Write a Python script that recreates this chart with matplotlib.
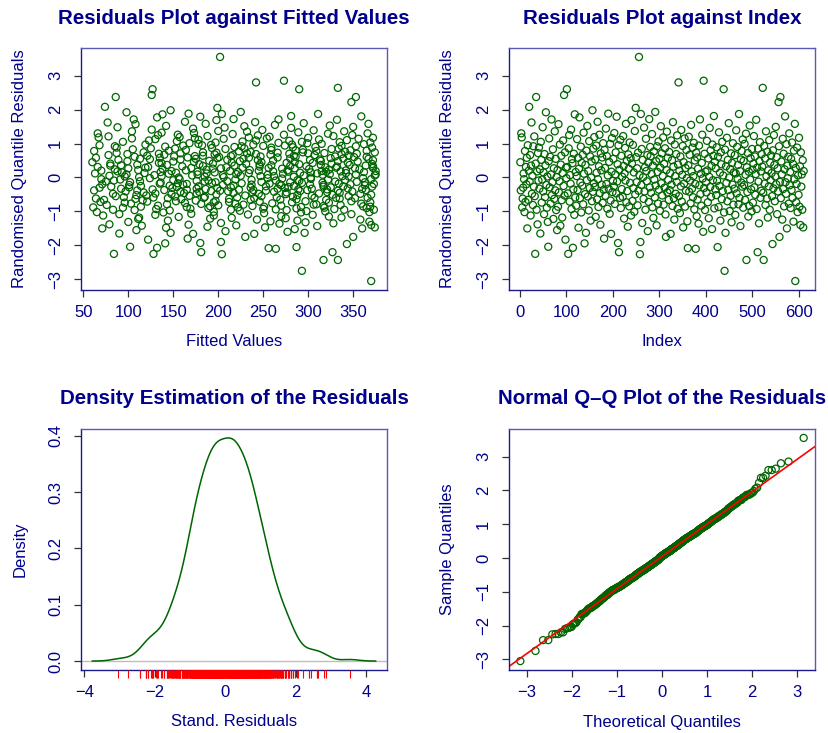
import numpy as np
import matplotlib.pyplot as plt
from statistics import NormalDist

plt.rcParams['font.family'] = ['Liberation Sans', 'DejaVu Sans']

# randomised quantile residuals, in index order
resid = [
    0.45, -0.38, 1.30, 1.18, -0.88, -0.62, -0.30, 0.12, -0.05, -1.02, 0.78, -0.72, 0.31, -0.20, 0.58, -1.50, 0.95, -0.66, 0.20, 2.08,
    -0.12, 0.66, -1.12, 0.35, 1.62, -0.48, 0.05, -0.81, 0.92, -0.27, 1.21, -0.55, -2.25, 0.41, 2.37, -0.95, 0.18, -1.38, 0.72, -0.09,
    0.88, -0.33, 0.24, -1.65, 1.05, 0.52, -0.74, -0.06, 1.48, -0.41, 0.15, -1.08, 0.69, -0.58, 0.36, 1.92, -0.22, -0.89, 0.03, -1.31,
    -2.04, 0.48, 1.15, -0.29, 0.61, -0.77, 0.09, 1.71, -0.52, -0.14, 0.83, -1.22, 0.27, -0.63, 1.36, -0.38, 0.55, -0.96, 0.01, -1.55,
    0.22, -0.86, 1.57, -0.44, -0.11, 0.97, -1.42, 0.38, 0.64, -0.67, -1.18, 0.13, 1.09, -0.25, 2.43, -0.53, 0.74, -1.83, 0.29, -0.02,
    2.60, 0.31, -0.47, -2.25, 0.86, 1.25, -0.71, 0.07, -0.18, 1.41, -0.93, 0.54, 0.42, -2.07, -0.35, 0.70, -1.10, 1.86, -0.59, 0.16,
    -0.83, 0.04, 1.13, -0.37, 0.58, -1.48, 0.26, 1.77, -0.61, -0.15, 0.91, -1.03, 0.43, -0.24, 0.67, -0.79, 1.32, 0.11, -1.94, -0.49,
    0.37, -1.63, 0.79, -0.08, 1.52, -0.56, 0.19, -0.97, 1.07, -0.31, 0.62, -1.27, 0.00, 0.47, -0.70, 1.98, -0.42, 0.85, -0.17, 1.19,
    -0.28, 0.53, -1.16, 0.94, 0.14, -0.64, 1.64, -0.05, -0.87, 0.33, 1.26, -0.46, -1.39, 0.71, 0.21, -0.21, 0.59, -0.75, 1.01, -0.36,
    -1.80, 0.81, 0.28, -0.54, 1.44, -0.19, 0.63, -0.92, 0.06, 1.88, -0.33, 0.46, -1.07, 0.99, -0.68, -1.66, 0.17, 1.16, -0.43, -0.10,
    0.55, -0.26, 1.31, -0.78, 0.09, 0.74, -0.47, 1.79, -0.12, 0.39, -1.93, 0.95, -2.20, 0.23, -0.60, 1.11, -0.90, 0.64, -0.34, 0.02,
    -0.57, 1.22, 0.34, -1.21, 0.12, 0.87, -0.09, 1.58, -0.73, 0.49, -0.40, -1.45, 0.68, 0.26, -0.85, 1.03, -0.16, 0.57, -1.12, 1.69,
    0.41, -0.69, 0.96, -0.31, 0.15, -1.01, 1.37, -0.50, 2.05, 0.60, -0.14, 0.27, -0.82, 0.73, -0.39, 3.55, 0.07, -2.26, -1.90, 1.87,
    -0.22, 0.84, -1.34, 0.52, 0.01, -0.63, 1.47, -0.41, 0.30, -0.95, 1.14, 0.19, -0.11, 0.66, -1.58, 0.44, -0.72, 1.72, -0.29, 0.90,
    0.63, -0.45, 0.10, 1.28, -0.88, 0.35, -1.19, 0.77, -0.06, -0.59, 1.93, -0.24, 0.48, -1.41, 0.92, 0.16, -0.77, 1.06, -0.36, 0.55,
    -0.98, 0.29, 1.51, -0.17, 0.71, -0.53, 0.05, 1.18, -0.80, 0.40, -0.30, 0.86, -1.09, -1.75, 0.22, 1.35, -0.44, 0.58, -0.07, -0.66,
    0.75, -0.37, 0.13, -1.66, 1.09, -0.21, 0.51, -0.84, 1.63, 0.32, -0.61, -1.24, 0.97, 0.04, -0.48, 0.69, -0.13, 1.24, -0.92, 0.38,
    2.80, -0.55, 0.20, -1.05, 0.62, -0.26, 1.40, -0.71, 0.08, 0.93, -1.47, 0.45, -0.18, 1.15, -0.86, 0.28, -0.39, 0.81, -0.02, -1.29,
    -2.08, 0.36, 1.20, -0.42, 0.67, -0.09, -0.76, 1.55, 0.18, -0.33, 0.88, -0.58, 0.04, 1.02, -0.94, 0.50, -0.19, -2.10, 0.73, -1.14,
    0.59, -0.65, 0.26, -1.36, 0.94, -0.23, 1.71, -0.49, 0.11, -0.83, 0.43, 1.26, -0.03, -1.60, 2.85, -0.31, 0.70, -0.96, 0.17, -0.14,
    -0.44, 1.08, 0.21, -0.73, 0.56, -1.20, 0.02, 1.46, -0.28, 0.80, -0.57, 0.34, -1.52, 0.97, -0.08, 0.64, 1.81, -0.91, 0.46, -0.35,
    0.27, -0.52, 0.89, -0.10, -2.05, 0.61, -0.87, 1.33, -0.25, 0.14, -1.27, 0.74, 0.39, -0.64, 1.05, -0.40, 0.06, 2.60, -1.03, -2.75,
    0.82, -1.63, 0.33, -0.16, 1.17, -0.70, 0.52, -0.37, 1.60, 0.00, -0.99, 0.25, -0.54, 0.71, -1.32, 0.43, -0.21, 1.01, -0.80, 0.15,
    -0.33, 0.66, -1.10, 0.12, 1.39, -0.47, 0.90, -0.04, 0.37, -0.79, 1.87, -0.60, 0.19, -1.43, 0.53, -0.15, 0.78, -0.27, 1.12, -0.89,
    0.49, -0.22, 0.99, -0.66, 0.08, 1.29, -2.43, 0.30, -0.43, 0.72, -1.15, 0.17, -0.84, 1.53, -0.06, 0.57, -0.35, -1.00, 0.84, 0.23,
    -0.74, 0.41, 1.22, -0.29, 0.62, -0.51, 0.10, 1.70, -0.93, 0.29, -2.20, 0.85, -0.12, -1.35, 0.48, 1.04, -0.60, 0.18, -0.39, 0.69,
    0.32, 2.64, -0.45, -2.43, 0.93, -0.18, 0.56, -0.81, 1.36, 0.04, -0.62, 0.76, -1.18, 0.21, -0.26, 1.10, -0.95, 0.44, -0.08, 0.65,
    0.13, -0.55, -1.96, 0.80, -0.32, 1.25, 0.37, -0.70, 0.03, 1.49, -0.20, 0.60, -1.08, 0.27, -0.41, 2.22, 0.92, -1.75, -0.13, 2.37,
    -0.61, 0.47, 0.09, -1.24, 1.14, -0.34, 0.70, -0.85, 0.24, 1.80, -0.14, -0.48, 0.98, -1.50, 0.35, -0.02, 0.61, -0.77, 1.30, -0.23,
    0.16, -0.90, 0.55, -0.37, 1.03, -0.60, 0.40, -1.30, 0.79, -0.05, 1.58, -3.05, 0.28, -0.73, -0.19, 0.88, -1.02, 0.06, -0.51, 1.17,
    -0.86, 0.33, -1.40, 0.74, -0.27, 0.09, -0.95, 0.51, -1.47, 0.19,
]

# fitted values, same order
fitted = [
    60, 62, 66, 67, 61, 64, 68, 63, 70, 65, 62, 69, 66, 71, 64, 71, 68, 73, 70, 74,
    75, 78, 72, 80, 77, 83, 79, 76, 85, 81, 78, 86, 84, 80, 86, 83, 88, 79, 87, 84,
    87, 92, 85, 90, 94, 89, 96, 91, 88, 97, 93, 90, 99, 95, 92, 98, 101, 94, 96, 100,
    102, 99, 104, 101, 107, 103, 98, 106, 109, 102, 105, 111, 100, 108, 104, 110, 113, 107, 112, 109,
    111, 114, 108, 117, 113, 119, 115, 110, 121, 116, 112, 118, 123, 114, 126, 120, 117, 122, 119, 124,
    127, 122, 130, 128, 125, 133, 121, 129, 135, 126, 131, 124, 137, 132, 127, 134, 130, 138, 128, 136,
    133, 137, 130, 140, 135, 142, 138, 132, 144, 136, 141, 139, 134, 146, 140, 143, 137, 145, 141, 148,
    143, 147, 145, 150, 142, 152, 148, 146, 154, 149, 151, 144, 156, 150, 153, 147, 158, 152, 155, 157,
    154, 158, 156, 161, 153, 159, 163, 157, 165, 160, 155, 162, 167, 158, 164, 161, 166, 163, 168, 165,
    166, 164, 170, 168, 172, 165, 174, 169, 171, 167, 176, 173, 170, 178, 175, 172, 177, 174, 179, 176,
    175, 178, 173, 181, 177, 183, 176, 180, 185, 179, 180, 182, 181, 187, 184, 178, 189, 183, 186, 185,
    185, 188, 183, 191, 187, 193, 189, 186, 195, 190, 192, 188, 196, 194, 191, 197, 193, 199, 195, 198,
    194, 197, 192, 199, 196, 195, 200, 198, 199, 201, 197, 203, 200, 198, 202, 202, 205, 204, 203, 204,
    205, 208, 203, 210, 206, 212, 207, 211, 209, 214, 206, 213, 210, 216, 208, 215, 212, 217, 214, 218,
    214, 217, 220, 216, 222, 218, 215, 223, 219, 221, 225, 217, 224, 220, 226, 222, 219, 227, 223, 228,
    224, 227, 229, 226, 232, 230, 225, 234, 228, 231, 236, 229, 233, 230, 235, 232, 238, 234, 237, 236,
    236, 239, 234, 240, 242, 237, 244, 238, 241, 246, 240, 243, 239, 247, 245, 242, 248, 244, 250, 246,
    242, 248, 245, 251, 247, 253, 249, 246, 255, 250, 252, 248, 257, 254, 251, 256, 253, 259, 255, 258,
    256, 259, 257, 262, 258, 264, 260, 263, 261, 266, 259, 265, 262, 267, 264, 261, 268, 264, 266, 270,
    266, 269, 271, 268, 274, 270, 267, 275, 272, 270, 276, 273, 271, 277, 273, 274, 279, 276, 278, 280,
    276, 279, 277, 282, 280, 275, 284, 281, 278, 286, 283, 280, 285, 282, 288, 284, 281, 287, 285, 289,
    285, 288, 283, 290, 287, 286, 292, 289, 284, 291, 288, 294, 290, 287, 293, 291, 295, 290, 292, 293,
    294, 296, 298, 293, 300, 297, 302, 299, 295, 303, 298, 301, 304, 300, 297, 305, 302, 299, 306, 303,
    304, 307, 305, 310, 306, 312, 308, 303, 314, 309, 311, 307, 315, 310, 313, 316, 309, 317, 312, 318,
    314, 317, 315, 320, 316, 322, 317, 319, 321, 318, 323, 320, 317, 324, 322, 325, 321, 319, 326, 323,
    323, 326, 328, 325, 330, 327, 324, 332, 329, 331, 327, 334, 330, 328, 333, 335, 331, 336, 333, 337,
    332, 333, 335, 333, 337, 334, 339, 336, 340, 338, 335, 341, 337, 342, 339, 343, 340, 344, 341, 345,
    342, 345, 343, 347, 344, 349, 346, 348, 345, 350, 347, 351, 348, 352, 349, 348, 353, 350, 354, 353,
    352, 355, 353, 358, 356, 360, 354, 361, 357, 359, 363, 358, 362, 360, 364, 361, 365, 359, 366, 363,
    362, 365, 367, 364, 369, 366, 371, 368, 365, 370, 367, 370, 372, 369, 373, 371, 368, 374, 370, 372,
    369, 372, 370, 374, 371, 375, 373, 372, 374, 375,
]

resid = np.array(resid)
fitted = np.array(fitted, dtype=float)
n = len(resid)
index = np.arange(1, n + 1)

navy = '#00008b'
dark_spine = '#1a1a8c'
light_spine = '#5a5ab4'
green = '#006400'

W, H = 829, 733
fig = plt.figure(figsize=(W / 100, H / 100), dpi=100)


def make_ax(x0, y0, x1, y1):
    return fig.add_axes([x0 / W, 1 - y1 / H, (x1 - x0) / W, (y1 - y0) / H])


def pad_lim(lo, hi):
    d = (hi - lo) * 0.04
    return lo - d, hi + d


def style(ax, title, xlabel, ylabel, xticks, yticks, yfmt=None):
    ax.set_xticks(xticks)
    ax.set_yticks(yticks)
    if yfmt:
        ax.set_yticklabels([yfmt.format(v) for v in yticks])
    for s in ['left', 'bottom']:
        ax.spines[s].set_color(dark_spine)
    for s in ['top', 'right']:
        ax.spines[s].set_color(light_spine)
    for s in ax.spines.values():
        s.set_linewidth(1.0)
    ax.tick_params(length=5, width=0.9, color='#333333', labelcolor=navy, labelsize=12)
    ax.tick_params(axis='x', pad=6)
    ax.tick_params(axis='y', pad=8, labelrotation=90)
    for lab in ax.get_yticklabels():
        lab.set_va('center')
    bb = ax.get_position()
    wpx, hpx = bb.width * W, bb.height * H
    ax.set_xlabel(xlabel, fontsize=12, color=navy)
    ax.xaxis.set_label_coords(0.5, -52 / hpx)
    ax.xaxis.label.set_va('center')
    ax.set_ylabel(ylabel, fontsize=12, color=navy)
    ax.yaxis.set_label_coords(-61 / wpx, 0.5)
    ax.yaxis.label.set_va('center')
    ax.text(0.5, 1 + 30 / hpx, title, transform=ax.transAxes, ha='center', va='center',
            fontsize=14.8, fontweight='bold', color=navy)


ylims = pad_lim(resid.min(), resid.max())
pt = dict(s=26, facecolors='none', edgecolors=green, linewidths=0.9)

# residuals against fitted values
ax1 = make_ax(81, 48, 387, 290)
ax1.scatter(fitted, resid, **pt)
ax1.set_xlim(pad_lim(fitted.min(), fitted.max()))
ax1.set_ylim(ylims)
style(ax1, 'Residuals Plot against Fitted Values', 'Fitted Values', 'Randomised Quantile Residuals',
      [50, 100, 150, 200, 250, 300, 350], [-3, -2, -1, 0, 1, 2, 3])

# residuals against index
ax2 = make_ax(509, 48, 815, 290)
ax2.scatter(index, resid, **pt)
ax2.set_xlim(pad_lim(index.min(), index.max()))
ax2.set_ylim(ylims)
style(ax2, 'Residuals Plot against Index', 'Index', 'Randomised Quantile Residuals',
      [0, 100, 200, 300, 400, 500, 600], [-3, -2, -1, 0, 1, 2, 3])

# kernel density (R default bw.nrd0, gaussian kernel)
q1, q3 = np.quantile(resid, [0.25, 0.75])
bw = 0.9 * min(resid.std(ddof=1), (q3 - q1) / 1.34) * n ** -0.2
grid = np.linspace(resid.min() - 3 * bw, resid.max() + 3 * bw, 512)
dens = np.exp(-0.5 * ((grid[:, None] - resid[None, :]) / bw) ** 2).sum(axis=1) / (n * bw * np.sqrt(2 * np.pi))

ax3 = make_ax(81, 429, 387, 670)
ax3.axhline(0, color='#bebebe', lw=1.0, zorder=1)
ax3.plot(grid, dens, color=green, lw=1.1, zorder=2)
ax3.set_xlim(pad_lim(grid.min(), grid.max()))
ax3.set_ylim(-0.04 * dens.max(), 1.04 * dens.max())
ax3.vlines(resid, -0.032, 0, transform=ax3.get_xaxis_transform(), colors='red', lw=0.8,
           clip_on=False, zorder=5)
style(ax3, 'Density Estimation of the Residuals', 'Stand. Residuals', 'Density',
      [-4, -2, 0, 2, 4], [0.0, 0.1, 0.2, 0.3, 0.4], yfmt='{:.1f}')

# normal Q-Q plot
nd = NormalDist()
probs = (index - 0.5) / n
theo = np.array([nd.inv_cdf(p) for p in probs])
samp = np.sort(resid)
z1, z3 = nd.inv_cdf(0.25), nd.inv_cdf(0.75)
slope = (q3 - q1) / (z3 - z1)
inter = q1 - slope * z1

ax4 = make_ax(509, 429, 815, 670)
ax4.scatter(theo, samp, **pt)
ax4.axline((0, inter), slope=slope, color='red', lw=1.2)
ax4.set_xlim(pad_lim(theo.min(), theo.max()))
ax4.set_ylim(pad_lim(samp.min(), samp.max()))
style(ax4, 'Normal Q\u2013Q Plot of the Residuals', 'Theoretical Quantiles', 'Sample Quantiles',
      [-3, -2, -1, 0, 1, 2, 3], [-3, -2, -1, 0, 1, 2, 3])

fig.savefig('out.png', dpi=100)
